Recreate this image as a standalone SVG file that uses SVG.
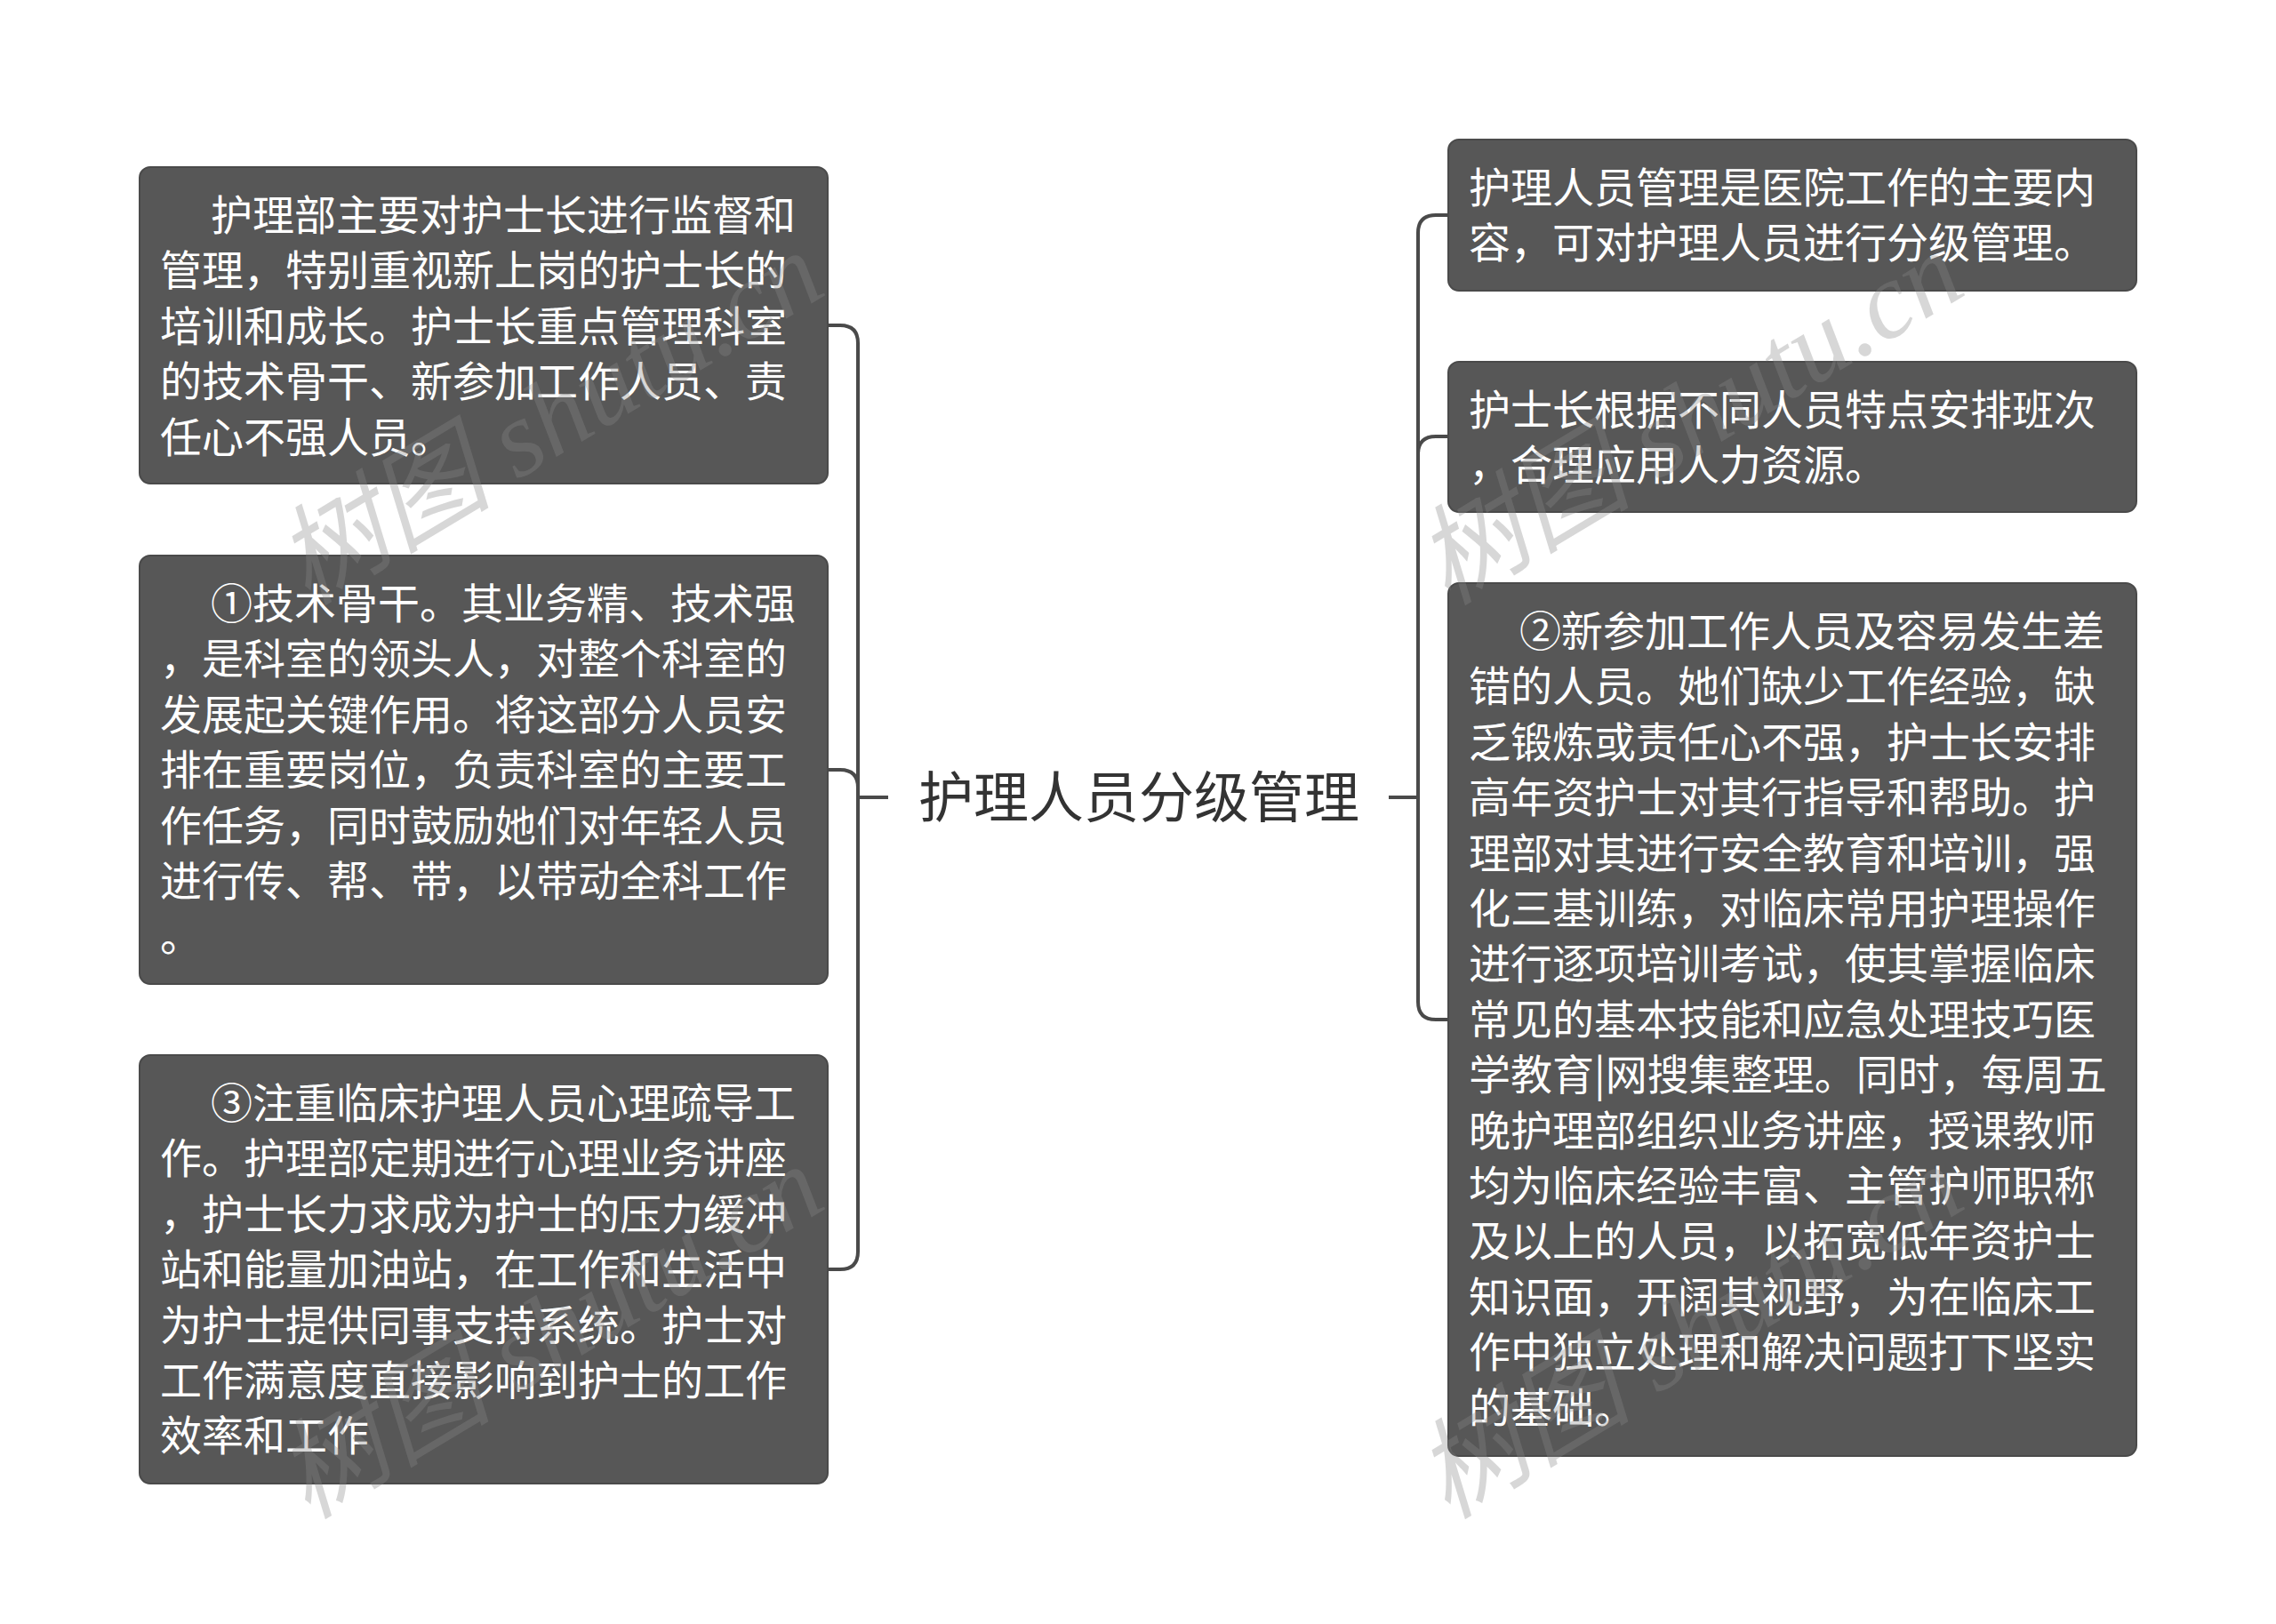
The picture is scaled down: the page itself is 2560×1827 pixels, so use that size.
<svg xmlns="http://www.w3.org/2000/svg" width="2560" height="1827" viewBox="0 0 2560 1827">
<style>
.box{fill:#575757;stroke:#4a4a4a;stroke-width:2}
.t{font-family:"Noto Sans CJK SC","Noto Sans",sans-serif;font-size:47px;fill:#ffffff}
.root{font-family:"Noto Sans CJK SC","Noto Sans",sans-serif;font-size:62px;fill:#333333}
.ln{fill:none;stroke:#4a4a4a;stroke-width:4;stroke-linecap:butt}
.wm{font-family:"Liberation Serif","Noto Sans CJK SC",serif;font-style:italic;font-size:122px;fill:#888888;opacity:0.33}
</style>
<rect width="2560" height="1827" fill="#ffffff"/>
<g id="connectors">
<path class="ln" d="M999 897 H965"/>
<path class="ln" d="M965 897 V386 Q965 366 945 366 H931"/>
<path class="ln" d="M965 897 V886 Q965 866 945 866 H931"/>
<path class="ln" d="M965 897 V1408 Q965 1428 945 1428 H931"/>
<path class="ln" d="M1562 897 H1595"/>
<path class="ln" d="M1595 897 V262 Q1595 242 1615 242 H1629"/>
<path class="ln" d="M1595 897 V511 Q1595 491 1615 491 H1629"/>
<path class="ln" d="M1595 897 V1127 Q1595 1147 1615 1147 H1629"/>
</g>
<g id="root">
<text class="root" x="1281" y="920" text-anchor="middle">护理人员分级管理</text>
</g>
<g id="node-l1">
<rect class="box" x="157" y="188" width="774" height="356" rx="12"/>
<text class="t"><tspan x="237" y="259">护理部主要对护士长进行监督和</tspan><tspan x="180" y="321.4">管理，特别重视新上岗的护士长的</tspan><tspan x="180" y="383.8">培训和成长。护士长重点管理科室</tspan><tspan x="180" y="446.2">的技术骨干、新参加工作人员、责</tspan><tspan x="180" y="508.6">任心不强人员。</tspan></text>
</g>
<g id="node-l2">
<rect class="box" x="157" y="625" width="774" height="482" rx="12"/>
<text class="t"><tspan x="237" y="696">①技术骨干。其业务精、技术强</tspan><tspan x="180" y="758.4">，是科室的领头人，对整个科室的</tspan><tspan x="180" y="820.8">发展起关键作用。将这部分人员安</tspan><tspan x="180" y="883.2">排在重要岗位，负责科室的主要工</tspan><tspan x="180" y="945.6">作任务，同时鼓励她们对年轻人员</tspan><tspan x="180" y="1008">进行传、帮、带，以带动全科工作</tspan><tspan x="180" y="1070.4">。</tspan></text>
</g>
<g id="node-l3">
<rect class="box" x="157" y="1187" width="774" height="482" rx="12"/>
<text class="t"><tspan x="237" y="1258">③注重临床护理人员心理疏导工</tspan><tspan x="180" y="1320.4">作。护理部定期进行心理业务讲座</tspan><tspan x="180" y="1382.8">，护士长力求成为护士的压力缓冲</tspan><tspan x="180" y="1445.2">站和能量加油站，在工作和生活中</tspan><tspan x="180" y="1507.6">为护士提供同事支持系统。护士对</tspan><tspan x="180" y="1570">工作满意度直接影响到护士的工作</tspan><tspan x="180" y="1632.4">效率和工作</tspan></text>
</g>
<g id="node-r1">
<rect class="box" x="1629" y="157" width="774" height="170" rx="12"/>
<text class="t"><tspan x="1652" y="228">护理人员管理是医院工作的主要内</tspan><tspan x="1652" y="290.4">容，可对护理人员进行分级管理。</tspan></text>
</g>
<g id="node-r2">
<rect class="box" x="1629" y="407" width="774" height="169" rx="12"/>
<text class="t"><tspan x="1652" y="478">护士长根据不同人员特点安排班次</tspan><tspan x="1652" y="540.4">，合理应用人力资源。</tspan></text>
</g>
<g id="node-r3">
<rect class="box" x="1629" y="656" width="774" height="982" rx="12"/>
<text class="t"><tspan x="1709" y="727">②新参加工作人员及容易发生差</tspan><tspan x="1652" y="789.4">错的人员。她们缺少工作经验，缺</tspan><tspan x="1652" y="851.8">乏锻炼或责任心不强，护士长安排</tspan><tspan x="1652" y="914.2">高年资护士对其行指导和帮助。护</tspan><tspan x="1652" y="976.6">理部对其进行安全教育和培训，强</tspan><tspan x="1652" y="1039">化三基训练，对临床常用护理操作</tspan><tspan x="1652" y="1101.4">进行逐项培训考试，使其掌握临床</tspan><tspan x="1652" y="1163.8">常见的基本技能和应急处理技巧医</tspan><tspan x="1652" y="1226.2">学教育|网搜集整理。同时，每周五</tspan><tspan x="1652" y="1288.6">晚护理部组织业务讲座，授课教师</tspan><tspan x="1652" y="1351">均为临床经验丰富、主管护师职称</tspan><tspan x="1652" y="1413.4">及以上的人员，以拓宽低年资护士</tspan><tspan x="1652" y="1475.8">知识面，开阔其视野，为在临床工</tspan><tspan x="1652" y="1538.2">作中独立处理和解决问题打下坚实</tspan><tspan x="1652" y="1600.6">的基础。</tspan></text>
</g>
<g id="watermarks">
<text class="wm" transform="translate(346 682) rotate(-31)">树图 shutu.cn</text>
<text class="wm" transform="translate(1628 682) rotate(-31)">树图 shutu.cn</text>
<text class="wm" transform="translate(346 1710) rotate(-31)">树图 shutu.cn</text>
<text class="wm" transform="translate(1628 1710) rotate(-31)">树图 shutu.cn</text>
</g>
</svg>
